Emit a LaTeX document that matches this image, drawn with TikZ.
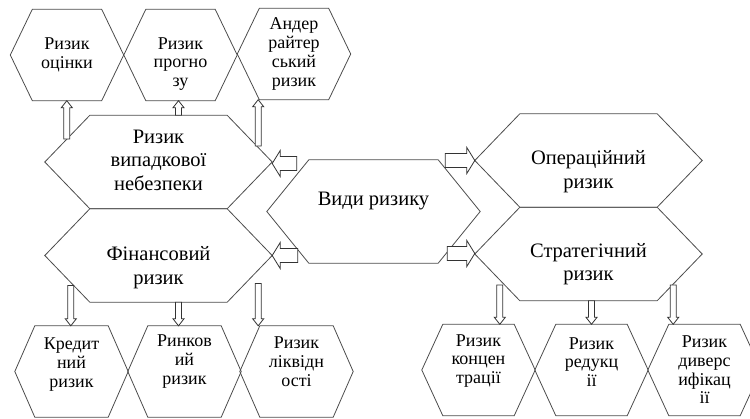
\documentclass[tikz,border=0pt]{standalone}
\usepackage{fontspec}
\setmainfont{Liberation Serif}
\usetikzlibrary{calc}
\tikzset{
  hexframe/.style  = {shape=rectangle, inner sep=0pt},
  hexS/.style      = {hexframe, minimum width=113pt, minimum height=91pt},
  hexB/.style      = {hexframe, minimum width=227pt, minimum height=93pt},
  hexV/.style      = {hexframe, minimum width=213pt, minimum height=103pt},
  hexS text/.style = {align=center, inner sep=0pt, font=\fontsize{18}{18.7}\selectfont},
  hexB text/.style = {align=center, inner sep=0pt, font=\fontsize{20.5}{23.5}\selectfont},
  hexV text/.style = {hexB text},
  hexline/.style   = {draw=black!70, line width=0.8pt},
  arrline/.style   = {draw=black!80, line width=0.8pt, fill=white}
}
% hexagon: [text shift]{style}{name}{position}{slant}{text}
\newcommand{\hexa}[6][0]{
  \node[#2] (#3) at #4 {};
  \draw[hexline] (#3.west) -- ([xshift=#5pt]#3.north west) -- ([xshift=-#5pt]#3.north east)
    -- (#3.east) -- ([xshift=-#5pt]#3.south east) -- ([xshift=#5pt]#3.south west) -- cycle;
  \node[#2 text] (#3-t) at ($(#3)+(0,#1)$) {#6};
}
% hollow block arrow: {from}{to}{half shaft}{half head}{head length}
\newcommand{\blockarrow}[5]{
  \draw[arrline] let \p1=(#1), \p2=(#2),
      \n1={atan2(\y2-\y1,\x2-\x1)}, \n2={veclen(\x2-\x1,\y2-\y1)} in
    [shift={(\p1)}, rotate=\n1]
    (0pt,#3) -- ({\n2*1pt-#5},#3) -- ({\n2*1pt-#5},#4) -- ({\n2*1pt},0pt)
    -- ({\n2*1pt-#5},-#4) -- ({\n2*1pt-#5},-#3) -- (0pt,-#3) -- cycle;
}
\newcommand{\vblock}[2]{
  \coordinate (tail) at (#1);
  \coordinate (head) at (tail |- #2);
  \blockarrow{tail}{head}{3pt}{5.5pt}{7pt}
}
\newcommand{\hblock}[2]{
  \coordinate (tail) at (#1);
  \coordinate (head) at (tail -| #2);
  \blockarrow{tail}{head}{7pt}{13pt}{8pt}
}

\begin{document}
\begin{tikzpicture}[x=1pt, y=-1pt]
  \useasboundingbox (0,0) rectangle (750,418);

  % centre
  \hexa[-11]{hexV}{vid}{(373.5,211.5)}{42}{Види ризику}

  % left branch
  \hexa[-2]{hexB}{vyp}{(158.5,162)}{45}{Ризик\\випадкової\\небезпеки}
  \hexa[12]{hexB}{fin}{(158.5,255.5)}{45}{Фінансовий\\ризик}
  \hexa{hexS}{ocin}{(67,55)}{22}{Ризик\\оцінки}
  \hexa[9]{hexS}{progn}{(180.5,55)}{22}{Ризик\\прогно\\зу}
  \hexa{hexS}{ander}{(294,54)}{22}{Андер\\райтер\\ський\\ризик}
  \hexa[-7]{hexS}{kred}{(71.5,371.5)}{20}{Кредит\\ний\\ризик}
  \hexa[-10]{hexS}{rynk}{(184.5,371.5)}{20}{Ринков\\ий\\ризик}
  \hexa[-10]{hexS}{likv}{(296.5,371.5)}{20}{Ризик\\ліквідн\\ості}

  % right branch
  \hexa[11]{hexB}{oper}{(588.5,160.5)}{45}{Операційний\\ризик}
  \hexa[10]{hexB}{strat}{(588.5,254)}{45}{Стратегічний\\ризик}
  \hexa[-9]{hexS}{konc}{(478.5,370)}{21}{Ризик\\концен\\трації}
  \hexa[-8]{hexS}{redu}{(591.5,370)}{21}{Ризик\\редукц\\ії}
  \hexa{hexS}{dyv}{(704.5,370)}{21}{Ризик\\диверс\\ифікац\\ії}

  % arrows
  \hblock{$(vid.west)+(30,-48)$}{vyp.east}
  \hblock{$(vid.west)+(31,44)$}{fin.east}
  \hblock{$(vid.east)+(-35,-51)$}{oper.west}
  \hblock{$(vid.east)+(-33,42)$}{strat.west}

  \vblock{$(vyp.west)+(22,-23)$}{ocin.south}
  \vblock{$(vyp.north)+(20,0)$}{progn.south}
  \vblock{$(vyp.east)+(-14,-16)$}{ander.south}

  \vblock{$(fin.west)+(26,30)$}{kred.north}
  \vblock{$(fin.south)+(20,0)$}{rynk.north}
  \vblock{$(fin.east)+(-14,28)$}{likv.north}

  \vblock{$(strat.west)+(25,31)$}{konc.north}
  \vblock{redu.north |- strat.south}{redu.north}
  \vblock{$(strat.east)+(-29,31)$}{dyv.north}
\end{tikzpicture}
\end{document}
